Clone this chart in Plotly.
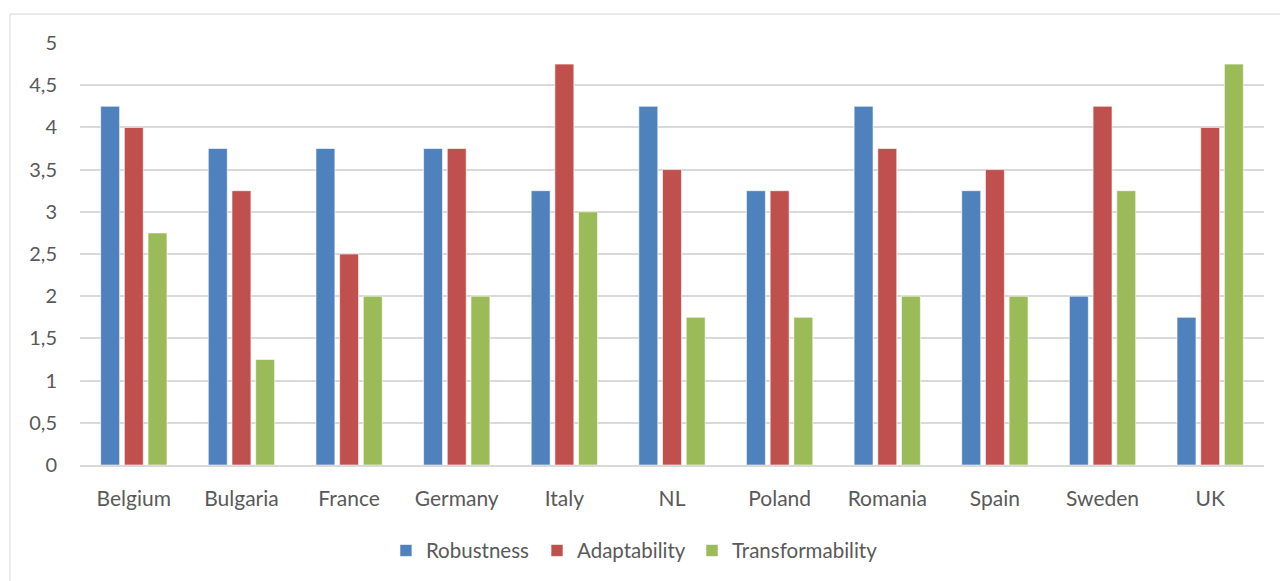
import plotly.graph_objects as go

countries = ["Belgium", "Bulgaria", "France", "Germany", "Italy", "NL",
             "Poland", "Romania", "Spain", "Sweden", "UK"]
robustness = [4.25, 3.75, 3.75, 3.75, 3.25, 4.25, 3.25, 4.25, 3.25, 2.0, 1.75]
adaptability = [4.0, 3.25, 2.5, 3.75, 4.75, 3.5, 3.25, 3.75, 3.5, 4.25, 4.0]
transformability = [2.75, 1.25, 2.0, 2.0, 3.0, 1.75, 1.75, 2.0, 2.0, 3.25, 4.75]
y_tickvals = [0, 0.5, 1, 1.5, 2, 2.5, 3, 3.5, 4, 4.5, 5]
y_ticktext = ["0", "0,5", "1", "1,5", "2", "2,5", "3", "3,5", "4", "4,5", "5"]

series = [
    ("Robustness", robustness, "#4F81BD", "legend", 0.2584),
    ("Adaptability", adaptability, "#C0504D", "legend2", 0.386),
    ("Transformability", transformability, "#9BBB59", "legend3", 0.5169),
]

fig = go.Figure()
for name, vals, color, leg, _ in series:
    fig.add_trace(go.Bar(
        x=countries, y=vals, name=name, legend=leg,
        marker=dict(color=color, line=dict(color="rgba(255,255,255,0.6)", width=1)),
    ))

font_family = "Lato, Calibri, Open Sans, sans-serif"
legend_common = dict(orientation="h", xanchor="left", y=-0.2, yanchor="middle",
                     font=dict(size=20.5, color="#595959"), itemwidth=30,
                     bgcolor="rgba(0,0,0,0)")
fig.update_layout(
    width=1280, height=581,
    paper_bgcolor="white", plot_bgcolor="white",
    margin=dict(l=80, r=16, t=43, b=115),
    barmode="group", bargap=0.34, bargroupgap=0.2,
    font=dict(family=font_family, size=20, color="#595959"),
    showlegend=True,
    legend=dict(x=series[0][4], **legend_common),
    legend2=dict(x=series[1][4], **legend_common),
    legend3=dict(x=series[2][4], **legend_common),
    xaxis=dict(showgrid=False, showline=True, linecolor="#D9D9D9", linewidth=1.5,
               ticks="", ticklabelstandoff=14, tickfont=dict(size=21, color="#595959")),
    yaxis=dict(range=[0, 5], tickvals=y_tickvals, ticktext=y_ticktext,
               showgrid=True, gridcolor="#D9D9D9", gridwidth=1.5,
               zeroline=False, showline=False, ticks="",
               ticklabelstandoff=22, tickfont=dict(size=20, color="#595959")),
    shapes=[dict(type="rect", xref="paper", yref="paper",
                 x0=(10 - 80) / 1184, x1=(1290 - 80) / 1184,
                 y0=(466 - 600) / 423, y1=(466 - 14) / 423,
                 line=dict(color="#D9D9D9", width=1), fillcolor="rgba(0,0,0,0)", layer="below")],
)

fig.write_html("out.html")
